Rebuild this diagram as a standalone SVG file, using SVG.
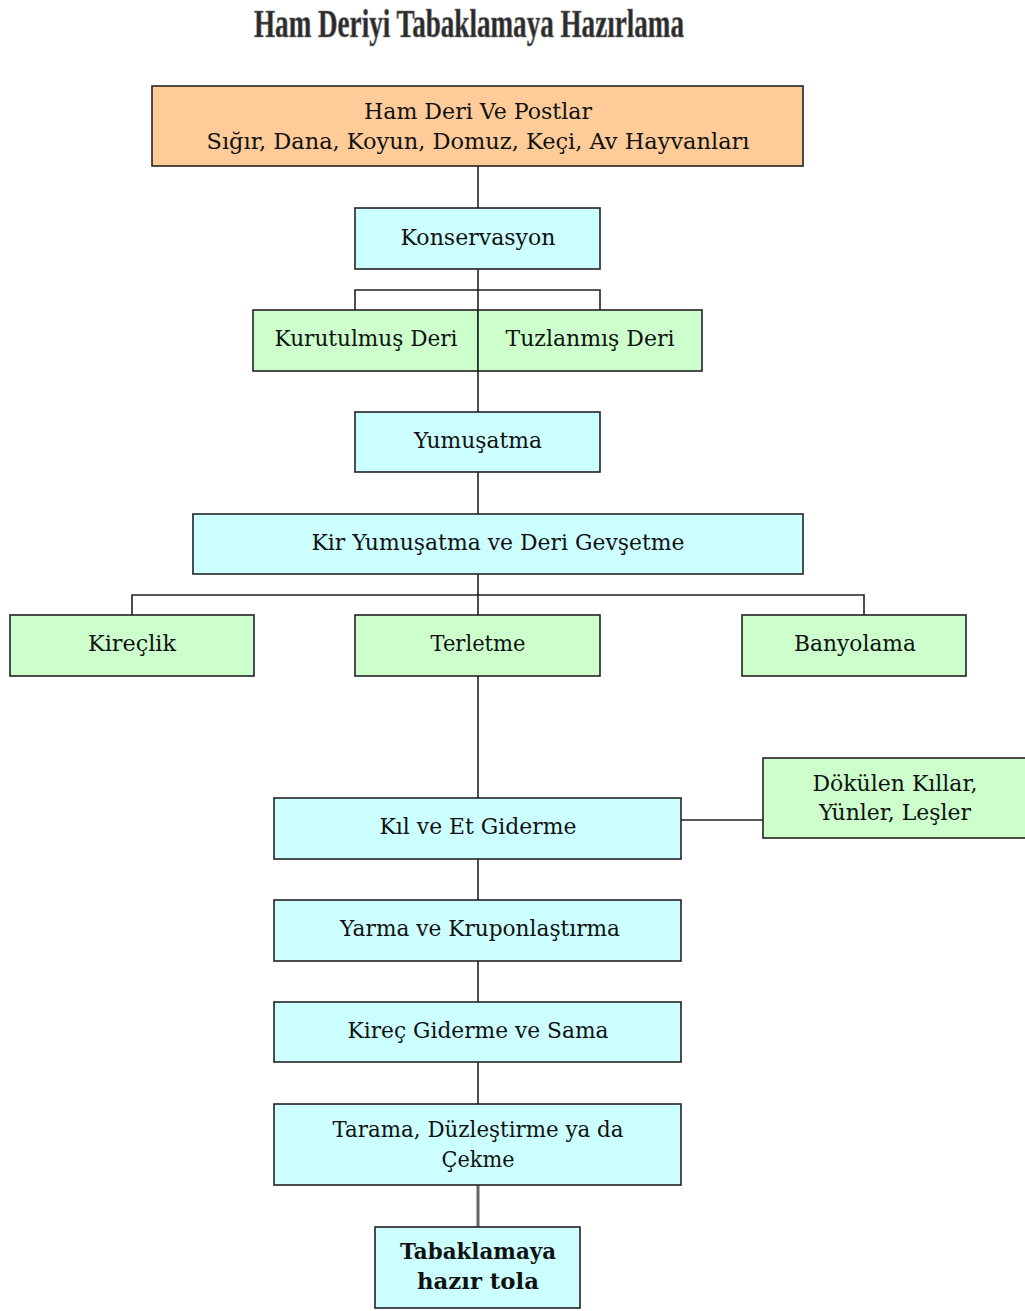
<svg xmlns="http://www.w3.org/2000/svg" width="1025" height="1311" viewBox="0 0 1025 1311">
<style>
.box{stroke:#222;stroke-width:1.6}
.c{fill:#CCFFFF}.g{fill:#CCFFCC}.o{fill:#FFCC99}
text{font-family:"DejaVu Serif","Liberation Serif",serif;font-size:21.5px;fill:#111;text-anchor:middle}
.b{font-weight:bold;font-family:"DejaVu Serif","Liberation Serif",serif;font-size:22px}
.title{font-family:"Liberation Serif",serif;font-weight:bold;font-size:40px;fill:#2a2a2a;stroke:#777;stroke-width:0.7}
.ln{stroke:#222;stroke-width:1.6;fill:none}
</style>
<rect width="1025" height="1311" fill="#fff"/>
<text class="title" x="469" y="37" textLength="430" lengthAdjust="spacingAndGlyphs">Ham Deriyi Tabaklamaya Hazırlama</text>
<g id="connectors">
<path class="ln" d="M478 166V208M478 269V310M355 310V290H600V310M478 371V412M478 472V514M478 574V615M132 615V595H864V615M478 676V798M681 820H763M478 859V900M478 961V1002M478 1062V1104"/>
<path d="M478 1185V1227" stroke="#666" stroke-width="3"/>
</g>
<g id="n_ham"><rect class="box o" x="152" y="86" width="651" height="80"/><text x="478" y="119" textLength="228" lengthAdjust="spacingAndGlyphs">Ham Deri Ve Postlar</text><text x="478" y="149" textLength="543" lengthAdjust="spacingAndGlyphs">Sığır, Dana, Koyun, Domuz, Keçi, Av Hayvanları</text></g>
<g id="n_kons"><rect class="box c" x="355" y="208" width="245" height="61"/><text x="478" y="245" textLength="155" lengthAdjust="spacingAndGlyphs">Konservasyon</text></g>
<g id="n_kuru"><rect class="box g" x="253" y="310" width="225" height="61"/><text x="366" y="346" textLength="183" lengthAdjust="spacingAndGlyphs">Kurutulmuş Deri</text></g>
<g id="n_tuz"><rect class="box g" x="478" y="310" width="224" height="61"/><text x="590" y="346" textLength="169" lengthAdjust="spacingAndGlyphs">Tuzlanmış Deri</text></g>
<g id="n_yum"><rect class="box c" x="355" y="412" width="245" height="60"/><text x="478" y="448" textLength="128" lengthAdjust="spacingAndGlyphs">Yumuşatma</text></g>
<g id="n_kir"><rect class="box c" x="193" y="514" width="610" height="60"/><text x="498" y="550" textLength="373" lengthAdjust="spacingAndGlyphs">Kir Yumuşatma ve Deri Gevşetme</text></g>
<g id="n_kirec"><rect class="box g" x="10" y="615" width="244" height="61"/><text x="132" y="651" textLength="88" lengthAdjust="spacingAndGlyphs">Kireçlik</text></g>
<g id="n_ter"><rect class="box g" x="355" y="615" width="245" height="61"/><text x="478" y="651" textLength="95" lengthAdjust="spacingAndGlyphs">Terletme</text></g>
<g id="n_ban"><rect class="box g" x="742" y="615" width="224" height="61"/><text x="855" y="651" textLength="122" lengthAdjust="spacingAndGlyphs">Banyolama</text></g>
<g id="n_dok"><rect class="box g" x="763" y="758" width="270" height="80"/><text x="895" y="791" textLength="165" lengthAdjust="spacingAndGlyphs">Dökülen Kıllar,</text><text x="895" y="820" textLength="152" lengthAdjust="spacingAndGlyphs">Yünler, Leşler</text></g>
<g id="n_kil"><rect class="box c" x="274" y="798" width="407" height="61"/><text x="478" y="834" textLength="197" lengthAdjust="spacingAndGlyphs">Kıl ve Et Giderme</text></g>
<g id="n_yarma"><rect class="box c" x="274" y="900" width="407" height="61"/><text x="480" y="936" textLength="280" lengthAdjust="spacingAndGlyphs">Yarma ve Kruponlaştırma</text></g>
<g id="n_kirecg"><rect class="box c" x="274" y="1002" width="407" height="60"/><text x="478" y="1038" textLength="261" lengthAdjust="spacingAndGlyphs">Kireç Giderme ve Sama</text></g>
<g id="n_tarama"><rect class="box c" x="274" y="1104" width="407" height="81"/><text x="478" y="1137" textLength="291" lengthAdjust="spacingAndGlyphs">Tarama, Düzleştirme ya da</text><text x="478" y="1167" textLength="73" lengthAdjust="spacingAndGlyphs">Çekme</text></g>
<g id="n_tab"><rect class="box c" x="375" y="1227" width="205" height="81"/><text class="b" x="478" y="1259" textLength="156" lengthAdjust="spacingAndGlyphs">Tabaklamaya</text><text class="b" x="478" y="1289" textLength="122" lengthAdjust="spacingAndGlyphs">hazır tola</text></g>
</svg>
